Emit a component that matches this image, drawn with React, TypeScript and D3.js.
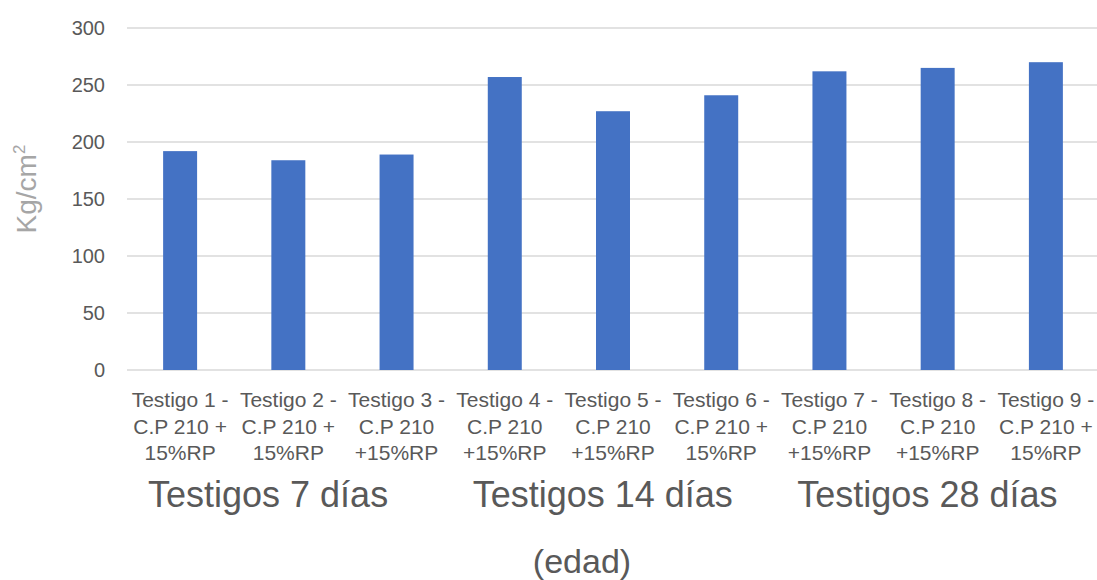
import React, { useEffect, useRef } from 'react';
import * as d3 from 'd3';

// Datos
const categories = [
  'Testigo 1', 'Testigo 2', 'Testigo 3',
  'Testigo 4', 'Testigo 5', 'Testigo 6',
  'Testigo 7', 'Testigo 8', 'Testigo 9',
];
const labelLines = [
  ['Testigo 1 -', 'C.P 210 +', '15%RP'],
  ['Testigo 2 -', 'C.P 210 +', '15%RP'],
  ['Testigo 3 -', 'C.P 210', '+15%RP'],
  ['Testigo 4 -', 'C.P 210', '+15%RP'],
  ['Testigo 5 -', 'C.P 210', '+15%RP'],
  ['Testigo 6 -', 'C.P 210 +', '15%RP'],
  ['Testigo 7 -', 'C.P 210', '+15%RP'],
  ['Testigo 8 -', 'C.P 210', '+15%RP'],
  ['Testigo 9 -', 'C.P 210 +', '15%RP'],
];
const values = [192, 184, 189, 257, 227, 241, 262, 265, 270];
const groups = ['Testigos 7 días', 'Testigos 14 días', 'Testigos 28 días'];
const yTicks = [0, 50, 100, 150, 200, 250, 300];

const W = 1097;
const H = 580;

const App = () => {
  const ref = useRef(null);

  useEffect(() => {
    const svg = d3.select(ref.current);
    svg.selectAll('*').remove();

    const x = d3.scaleBand()
      .domain(categories)
      .range([126, 1100])
      .paddingInner(0.686)
      .paddingOuter(0.343);

    const y = d3.scaleLinear().domain([0, 300]).range([370, 28]);

    // gridlines
    svg.append('g')
      .selectAll('line')
      .data(yTicks)
      .enter()
      .append('line')
      .attr('x1', 127)
      .attr('x2', W)
      .attr('y1', d => y(d))
      .attr('y2', d => y(d))
      .attr('stroke', '#d9d9d9')
      .attr('stroke-width', 1.5);

    // y tick labels
    svg.append('g')
      .selectAll('text')
      .data(yTicks)
      .enter()
      .append('text')
      .attr('x', 105)
      .attr('y', d => y(d))
      .attr('dy', '0.35em')
      .attr('text-anchor', 'end')
      .attr('font-size', 20)
      .attr('fill', '#595959')
      .text(d => d);

    // bars
    svg.append('g')
      .selectAll('rect')
      .data(values)
      .enter()
      .append('rect')
      .attr('x', (d, i) => x(categories[i]))
      .attr('y', d => y(d))
      .attr('width', x.bandwidth())
      .attr('height', d => y(0) - y(d))
      .attr('fill', '#4472c4');

    // category labels
    const lab = svg.append('g')
      .selectAll('text')
      .data(labelLines)
      .enter()
      .append('text')
      .attr('text-anchor', 'middle')
      .attr('font-size', 21)
      .attr('fill', '#595959');
    lab.each(function (lines, i) {
      const t = d3.select(this);
      lines.forEach((l, j) => {
        t.append('tspan')
          .attr('x', x(categories[i]) + x.bandwidth() / 2)
          .attr('y', 407 + j * 26.5)
          .text(l);
      });
    });

    // group labels
    svg.append('g')
      .selectAll('text')
      .data(groups)
      .enter()
      .append('text')
      .attr('x', (d, i) => x(categories[i * 3]) - x.step() * x.paddingOuter() + 22)
      .attr('y', 507)
      .attr('font-size', 36)
      .attr('fill', '#595959')
      .text(d => d);

    // axis titles
    svg.append('text')
      .attr('x', 582)
      .attr('y', 573)
      .attr('text-anchor', 'middle')
      .attr('font-size', 34)
      .attr('fill', '#595959')
      .text('(edad)');

    const yt = svg.append('text')
      .attr('transform', 'translate(36,189) rotate(-90)')
      .attr('text-anchor', 'middle')
      .attr('font-size', 28)
      .attr('fill', '#a6a6a6');
    yt.append('tspan').text('Kg/cm');
    yt.append('tspan').attr('font-size', 17).attr('dy', -11).text('2');
  }, []);

  return (
    <svg
      ref={ref}
      width={W}
      height={H}
      style={{ position: 'absolute', left: 0, top: 0, background: '#fff', fontFamily: 'Liberation Sans, Arial, sans-serif' }}
    />
  );
};

export default App;
